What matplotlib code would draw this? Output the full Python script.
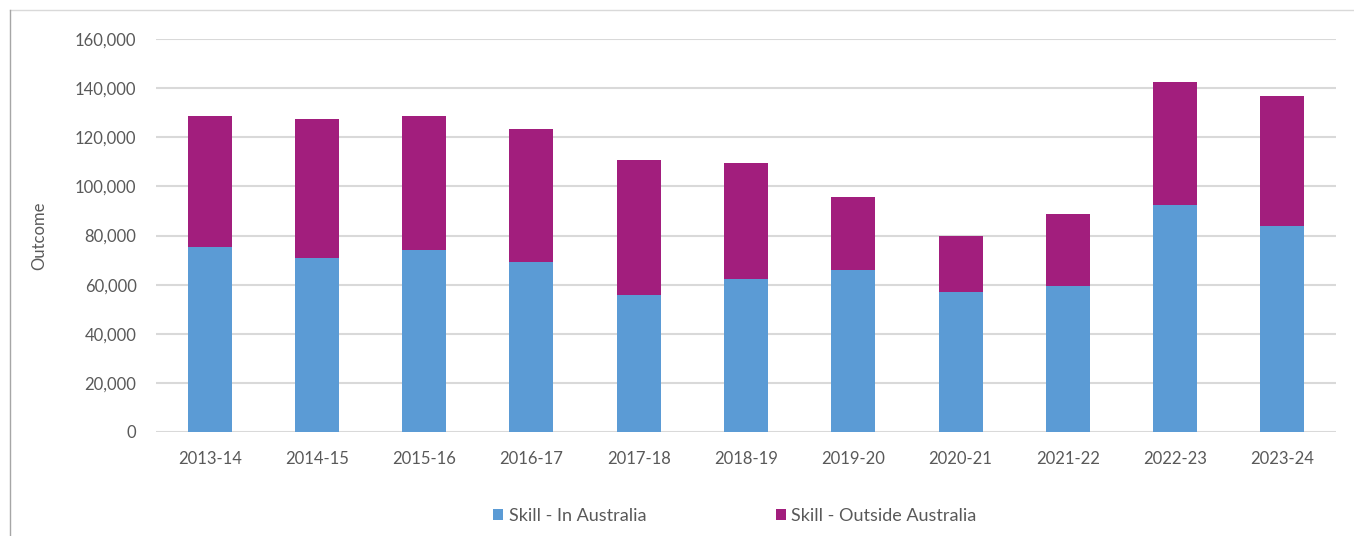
import matplotlib
matplotlib.use("Agg")
import matplotlib.pyplot as plt
from matplotlib.lines import Line2D
from matplotlib.ticker import FuncFormatter, MultipleLocator
import numpy as np

plt.rcParams['font.family'] = ['Lato', 'DejaVu Sans']

categories = ["2013-14", "2014-15", "2015-16", "2016-17", "2017-18", "2018-19",
              "2019-20", "2020-21", "2021-22", "2022-23", "2023-24"]
in_australia = [75300, 70700, 74200, 69100, 55800, 62400, 66100, 56900, 59500, 92400, 83900]
outside_australia = [53500, 56900, 54600, 54400, 55000, 47300, 29400, 23000, 29400, 50000, 53000]
series_names = ["Skill - In Australia", "Skill - Outside Australia"]

blue = "#5B9BD5"
magenta = "#A21E7D"
text_col = "#595959"
grid_col = "#D9D9D9"

fig = plt.figure(figsize=(13.54, 5.36), dpi=100)
ax = fig.add_axes([156/1354, 1-432/536, (1336-156)/1354, (432-39)/536])

x = np.arange(len(categories))
w = 0.41
ax.bar(x, in_australia, w, color=blue, label=series_names[0], zorder=3)
ax.bar(x, outside_australia, w, bottom=in_australia, color=magenta,
       label=series_names[1], zorder=3)

ax.set_xlim(-0.5, len(categories) - 0.5)
ax.set_ylim(0, 160000)
ax.yaxis.set_major_locator(MultipleLocator(20000))
ax.yaxis.set_major_formatter(FuncFormatter(lambda v, p: f"{int(v):,}"))
ax.set_xticks(x)
ax.set_xticklabels(categories)
ax.grid(axis='y', color=grid_col, linewidth=1.5, zorder=0)
for s in ax.spines.values():
    s.set_visible(False)
ax.tick_params(axis='both', length=0, labelsize=12, labelcolor=text_col)
ax.tick_params(axis='y', pad=14)
ax.tick_params(axis='x', pad=14)
ax.set_ylabel("Outcome", fontsize=12, color=text_col, labelpad=20)

leg = fig.legend(loc='center', bbox_to_anchor=(735/1354, 1-516/536), ncol=2,
                 frameon=False, fontsize=13, handlelength=0.55, handleheight=0.55,
                 handletextpad=0.3, columnspacing=7.2)
for t in leg.get_texts():
    t.set_color(text_col)

# outer chart border (top and left edges visible)
bcol = "#D9D9D9"
fig.add_artist(Line2D([10/1354, 1], [1-10/536, 1-10/536], transform=fig.transFigure,
                      color=bcol, linewidth=1))
fig.add_artist(Line2D([10/1354, 10/1354], [0, 1-10/536], transform=fig.transFigure,
                      color="#A6A6A6", linewidth=1))

fig.savefig("out.png", dpi=100)
